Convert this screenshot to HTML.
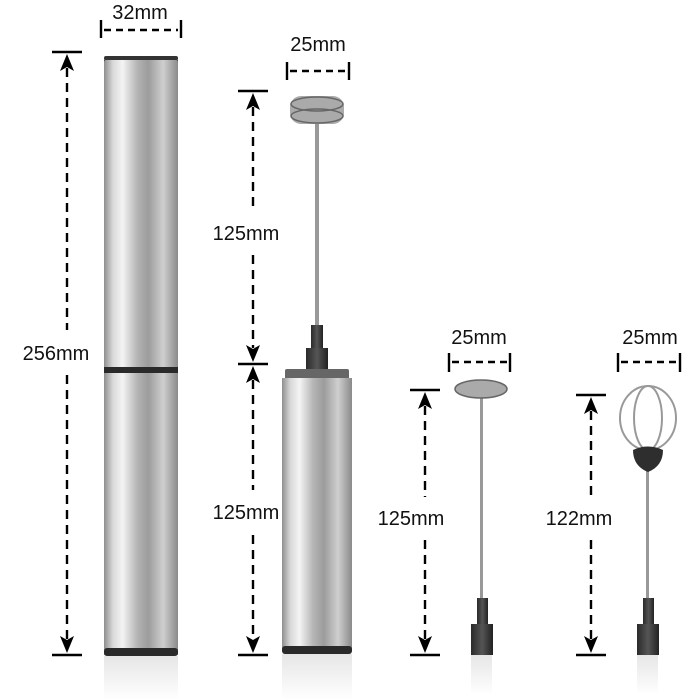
<!DOCTYPE html>
<html><head><meta charset="utf-8"><style>
html,body{margin:0;padding:0;background:#fff;}
svg{display:block}
text{font-family:"Liberation Sans",sans-serif;font-size:20px;fill:#111;text-anchor:middle}
</style></head><body>
<svg width="700" height="700" viewBox="0 0 700 700">
<defs>
<linearGradient id="m" x1="0" x2="1">
<stop offset="0" stop-color="#8e8e8e"/><stop offset="0.12" stop-color="#d8d8d8"/><stop offset="0.25" stop-color="#f4f4f4"/><stop offset="0.45" stop-color="#b4b4b4"/><stop offset="0.6" stop-color="#9c9c9c"/><stop offset="0.8" stop-color="#cfcfcf"/><stop offset="1" stop-color="#8a8a8a"/>
</linearGradient>
<linearGradient id="r" x1="0" y1="0" x2="0" y2="1">
<stop offset="0" stop-color="#e6e6e6"/><stop offset="1" stop-color="#fff"/>
</linearGradient>
<linearGradient id="k" x1="0" x2="1">
<stop offset="0" stop-color="#2a2a2a"/><stop offset="0.5" stop-color="#555"/><stop offset="1" stop-color="#222"/>
</linearGradient>
</defs>

<rect x="104" y="656" width="74" height="44" fill="url(#r)"/>
<rect x="282" y="654" width="70" height="46" fill="url(#r)"/>
<rect x="471" y="655" width="21" height="40" fill="url(#r)"/>
<rect x="637" y="655" width="21" height="40" fill="url(#r)"/>

<!-- tube 1 -->
<rect x="104" y="58" width="74" height="597" fill="url(#m)"/>
<path d="M104,62 Q104,56 141,56 Q178,56 178,62 L178,60 Q141,58 104,60Z" fill="#333"/>
<rect x="104" y="56" width="74" height="4" rx="2" fill="#333"/>
<rect x="104" y="367" width="74" height="6" fill="#2a2a2a"/>
<rect x="104" y="648" width="74" height="8" rx="3" fill="#2a2a2a"/>

<!-- tube 2 -->
<rect x="315" y="120" width="4" height="210" fill="#999"/>
<rect x="311" y="325" width="12" height="24" fill="url(#k)"/>
<rect x="306" y="348" width="22" height="22" fill="url(#k)"/>
<rect x="285" y="369" width="64" height="10" rx="2" fill="#666"/>
<rect x="282" y="378" width="70" height="273" fill="url(#m)"/>
<rect x="282" y="646" width="70" height="8" rx="3" fill="#2a2a2a"/>
<rect x="290" y="96" width="54" height="28" rx="11" fill="#aaa"/>
<g fill="none" stroke="#666" stroke-width="1.5">
<ellipse cx="317" cy="104" rx="26" ry="7"/><ellipse cx="317" cy="116" rx="26" ry="7"/>
</g>

<!-- whisk 3 -->
<rect x="480" y="392" width="3" height="208" fill="#999"/>
<ellipse cx="481" cy="389" rx="26" ry="9" fill="#aaa" stroke="#666" stroke-width="1.5"/>
<rect x="477" y="598" width="11" height="28" fill="url(#k)"/>
<rect x="471" y="624" width="22" height="31" fill="url(#k)"/>

<!-- whisk 4 -->
<rect x="646" y="465" width="3" height="135" fill="#999"/>
<g fill="none" stroke="#999" stroke-width="2">
<ellipse cx="648" cy="418" rx="28" ry="32"/><ellipse cx="648" cy="418" rx="14" ry="32"/>
</g>
<path d="M633,450 Q648,443 663,450 Q663,466 648,472 Q633,466 633,450Z" fill="#2e2e2e"/>
<rect x="643" y="598" width="11" height="28" fill="url(#k)"/>
<rect x="637" y="624" width="22" height="31" fill="url(#k)"/>

<!-- dimension lines -->
<g stroke="#000" stroke-width="2.4" fill="none">
<line x1="52" y1="52" x2="82" y2="52"/><line x1="52" y1="655" x2="82" y2="655"/>
<line x1="67" y1="68" x2="67" y2="330" stroke-dasharray="9,6"/>
<line x1="67" y1="375" x2="67" y2="640" stroke-dasharray="9,6"/>
<line x1="101" y1="20" x2="101" y2="38"/><line x1="181" y1="20" x2="181" y2="38"/>
<line x1="104" y1="30" x2="178" y2="30" stroke-dasharray="7,5"/>

<line x1="238" y1="91" x2="268" y2="91"/><line x1="238" y1="364" x2="268" y2="364"/><line x1="238" y1="655" x2="268" y2="655"/>
<line x1="253" y1="107" x2="253" y2="210" stroke-dasharray="9,6"/>
<line x1="253" y1="255" x2="253" y2="348" stroke-dasharray="9,6"/>
<line x1="253" y1="380" x2="253" y2="490" stroke-dasharray="9,6"/>
<line x1="253" y1="535" x2="253" y2="640" stroke-dasharray="9,6"/>
<line x1="287" y1="62" x2="287" y2="80"/><line x1="349" y1="62" x2="349" y2="80"/>
<line x1="290" y1="71" x2="346" y2="71" stroke-dasharray="7,5"/>

<line x1="410" y1="390" x2="440" y2="390"/><line x1="410" y1="655" x2="440" y2="655"/>
<line x1="425" y1="406" x2="425" y2="497" stroke-dasharray="9,6"/>
<line x1="425" y1="540" x2="425" y2="640" stroke-dasharray="9,6"/>
<line x1="449" y1="353" x2="449" y2="372"/><line x1="510" y1="353" x2="510" y2="372"/>
<line x1="452" y1="362" x2="507" y2="362" stroke-dasharray="7,5"/>

<line x1="576" y1="395" x2="606" y2="395"/><line x1="576" y1="655" x2="606" y2="655"/>
<line x1="591" y1="411" x2="591" y2="497" stroke-dasharray="9,6"/>
<line x1="591" y1="540" x2="591" y2="640" stroke-dasharray="9,6"/>
<line x1="618" y1="353" x2="618" y2="372"/><line x1="680" y1="353" x2="680" y2="372"/>
<line x1="621" y1="362" x2="677" y2="362" stroke-dasharray="7,5"/>
</g>
<g fill="#000">
<path d="M67,54 l-7,17 l7,-4 l7,4Z"/><path d="M67,653 l-7,-17 l7,4 l7,-4Z"/>
<path d="M253,93 l-7,17 l7,-4 l7,4Z"/><path d="M253,362 l-7,-17 l7,4 l7,-4Z"/>
<path d="M253,366 l-7,17 l7,-4 l7,4Z"/><path d="M253,653 l-7,-17 l7,4 l7,-4Z"/>
<path d="M425,392 l-7,17 l7,-4 l7,4Z"/><path d="M425,653 l-7,-17 l7,4 l7,-4Z"/>
<path d="M591,397 l-7,17 l7,-4 l7,4Z"/><path d="M591,653 l-7,-17 l7,4 l7,-4Z"/>
</g>

<text x="140" y="19">32mm</text>
<text x="318" y="51">25mm</text>
<text x="56" y="360">256mm</text>
<text x="246" y="240">125mm</text>
<text x="246" y="519">125mm</text>
<text x="411" y="525">125mm</text>
<text x="479" y="344">25mm</text>
<text x="579" y="525">122mm</text>
<text x="650" y="344">25mm</text>
</svg>
</body></html>
